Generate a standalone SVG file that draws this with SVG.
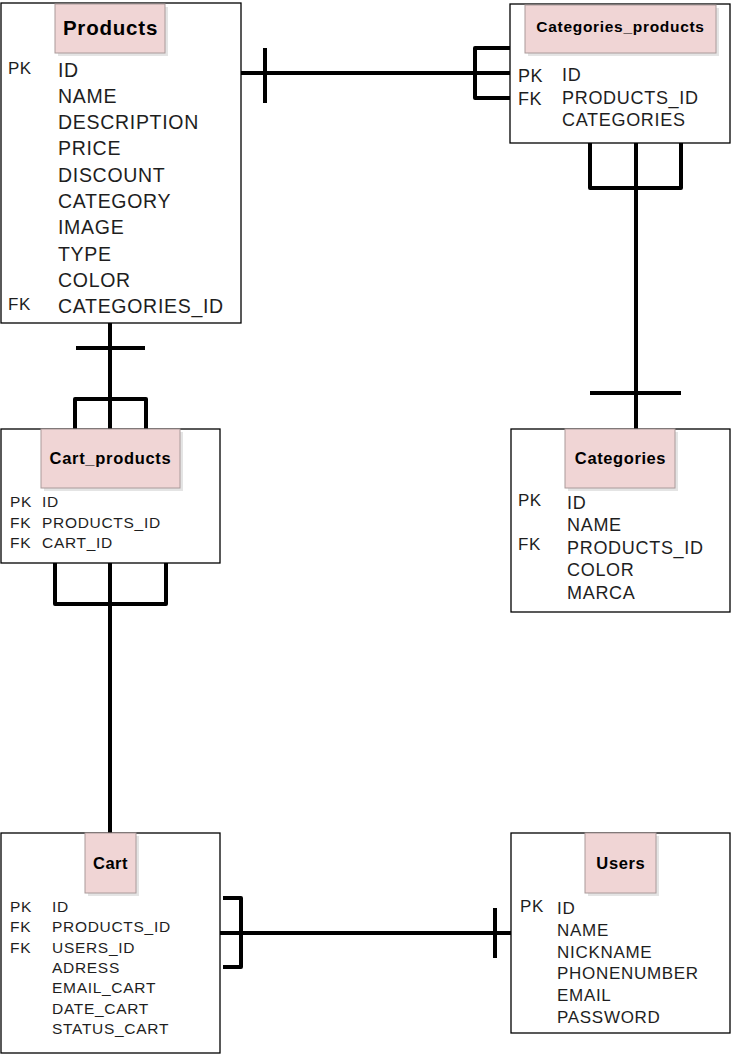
<svg xmlns="http://www.w3.org/2000/svg" width="731" height="1054" viewBox="0 0 731 1054">
<style>
.box{fill:#fff;stroke:#000;stroke-width:1.3}
.hdr{fill:#f0d5d5;stroke:#aa9a9a;stroke-width:1}
.shd{fill:#e4e4e4}
.t{font-family:"Liberation Sans",Arial,sans-serif;font-weight:bold;fill:#000;text-anchor:middle}
.f{font-family:"Liberation Sans",Arial,sans-serif;fill:#1e1e1e}
.conn{fill:none;stroke:#000;stroke-width:4;stroke-linejoin:round}
</style>
<rect width="731" height="1054" fill="#fff"/>
<g id="connectors" class="conn">
  <path d="M241,73 H510"/>
  <path d="M265,48 V103"/>
  <path d="M510,48 H475 V98 H510"/>
  <path d="M636,143 V429"/>
  <path d="M590,143 V188 H681 V143"/>
  <path d="M590,393 H681"/>
  <path d="M110,323 V429"/>
  <path d="M76,348 H145"/>
  <path d="M75,429 V399 H146 V429"/>
  <path d="M110,563 V833"/>
  <path d="M55,563 V604 H166 V563"/>
  <path d="M220,933 H511"/>
  <path d="M223,898 H241 V967 H223"/>
  <path d="M495,908 V958"/>
</g>
<g id="products">
  <rect class="box" x="1" y="3" width="240" height="320"/>
  <rect class="shd" x="58" y="7" width="110" height="49"/>
  <rect class="hdr" x="55" y="4" width="110" height="49"/>
  <text class="t" x="110.5" y="35" font-size="20.5" letter-spacing="0.8">Products</text>
  <g class="f" font-size="17" letter-spacing="0.5">
    <text x="8" y="74">PK</text>
    <text x="8" y="310">FK</text>
  </g>
  <g class="f" font-size="19.5" letter-spacing="0.7">
    <text x="58" y="76.5">ID</text>
    <text x="58" y="102.8">NAME</text>
    <text x="58" y="129.1">DESCRIPTION</text>
    <text x="58" y="155.4">PRICE</text>
    <text x="58" y="181.7">DISCOUNT</text>
    <text x="58" y="208">CATEGORY</text>
    <text x="58" y="234.3">IMAGE</text>
    <text x="58" y="260.6">TYPE</text>
    <text x="58" y="286.9">COLOR</text>
    <text x="58" y="313.2">CATEGORIES_ID</text>
  </g>
</g>
<g id="categories_products">
  <rect class="box" x="510" y="4" width="220" height="139"/>
  <rect class="shd" x="528" y="8" width="191" height="48"/>
  <rect class="hdr" x="525" y="5" width="191" height="48"/>
  <text class="t" x="620.5" y="32" font-size="15.5" letter-spacing="0.7">Categories_products</text>
  <g class="f" font-size="18" letter-spacing="0.5">
    <text x="518" y="82">PK</text>
    <text x="518" y="105">FK</text>
  </g>
  <g class="f" font-size="18" letter-spacing="0.7">
    <text x="562" y="81">ID</text>
    <text x="562" y="103.5">PRODUCTS_ID</text>
    <text x="562" y="126">CATEGORIES</text>
  </g>
</g>
<g id="cart_products">
  <rect class="box" x="1" y="429" width="219" height="134"/>
  <rect class="shd" x="44" y="432" width="139" height="59"/>
  <rect class="hdr" x="41" y="429" width="139" height="59"/>
  <text class="t" x="110.5" y="463.5" font-size="16.5" letter-spacing="0.7">Cart_products</text>
  <g class="f" font-size="15.5" letter-spacing="0.7">
    <text x="10" y="507">PK</text>
    <text x="10" y="527.5">FK</text>
    <text x="10" y="548">FK</text>
    <text x="42" y="507">ID</text>
    <text x="42" y="527.5">PRODUCTS_ID</text>
    <text x="42" y="548">CART_ID</text>
  </g>
</g>
<g id="categories">
  <rect class="box" x="511" y="429" width="219" height="183"/>
  <rect class="shd" x="568" y="432" width="110" height="59"/>
  <rect class="hdr" x="565" y="429" width="110" height="59"/>
  <text class="t" x="620.5" y="463.5" font-size="16.5" letter-spacing="0.6">Categories</text>
  <g class="f" font-size="17" letter-spacing="0.5">
    <text x="518" y="506">PK</text>
    <text x="518" y="550">FK</text>
  </g>
  <g class="f" font-size="18" letter-spacing="0.7">
    <text x="567" y="508.5">ID</text>
    <text x="567" y="531">NAME</text>
    <text x="567" y="553.5">PRODUCTS_ID</text>
    <text x="567" y="576">COLOR</text>
    <text x="567" y="598.5">MARCA</text>
  </g>
</g>
<g id="cart">
  <rect class="box" x="1" y="833" width="219" height="220"/>
  <rect class="shd" x="88" y="836" width="51" height="60"/>
  <rect class="hdr" x="85" y="833" width="51" height="60"/>
  <text class="t" x="110.5" y="868.5" font-size="16.5" letter-spacing="0.5">Cart</text>
  <g class="f" font-size="15.5" letter-spacing="0.7">
    <text x="10" y="912">PK</text>
    <text x="10" y="932.3">FK</text>
    <text x="10" y="952.6">FK</text>
    <text x="52" y="912">ID</text>
    <text x="52" y="932.3">PRODUCTS_ID</text>
    <text x="52" y="952.6">USERS_ID</text>
    <text x="52" y="973">ADRESS</text>
    <text x="52" y="993.3">EMAIL_CART</text>
    <text x="52" y="1013.6">DATE_CART</text>
    <text x="52" y="1034">STATUS_CART</text>
  </g>
</g>
<g id="users">
  <rect class="box" x="511" y="833" width="219" height="200"/>
  <rect class="shd" x="588" y="836" width="71" height="60"/>
  <rect class="hdr" x="585" y="833" width="71" height="60"/>
  <text class="t" x="620.8" y="868.5" font-size="16.5" letter-spacing="0.6">Users</text>
  <g class="f" font-size="17" letter-spacing="0.7">
    <text x="520" y="912">PK</text>
    <text x="557" y="914.3">ID</text>
    <text x="557" y="936">NAME</text>
    <text x="557" y="957.7">NICKNAME</text>
    <text x="557" y="979.3">PHONENUMBER</text>
    <text x="557" y="1001">EMAIL</text>
    <text x="557" y="1022.7">PASSWORD</text>
  </g>
</g>
</svg>
